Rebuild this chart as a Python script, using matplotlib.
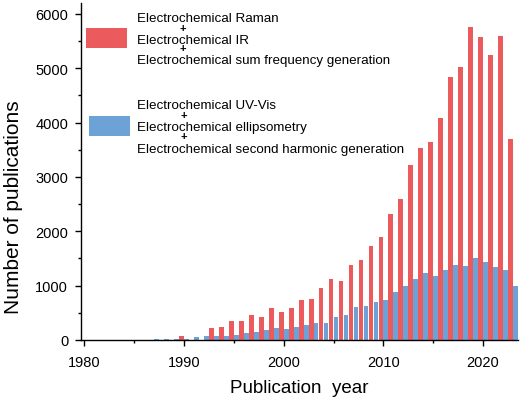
import matplotlib
matplotlib.use("Agg")
import matplotlib.pyplot as plt
from matplotlib.patches import Rectangle
from matplotlib.ticker import MultipleLocator

plt.rcParams['font.family'] = ['Liberation Sans', 'DejaVu Sans']

years = list(range(1983, 2024))
red_values = [0, 0, 0, 0, 0, 0, 0, 80, 0, 0, 215, 245, 350, 355, 452, 430, 590, 515, 588, 735,
              760, 962, 1120, 1090, 1380, 1467, 1731, 1903, 2312, 2597, 3217, 3540, 3644, 4076,
              4843, 5021, 5764, 5580, 5249, 5586, 3700]
blue_values = [5, 0, 0, 0, 10, 10, 15, 15, 50, 72, 70, 70, 92, 123, 141, 184, 221, 209, 239, 282,
               307, 310, 417, 454, 602, 632, 694, 743, 890, 995, 1117, 1234, 1173, 1296,
               1388, 1357, 1510, 1443, 1351, 1289, 1001]

red_label = ["Electrochemical Raman", "+", "Electrochemical IR", "+",
             "Electrochemical sum frequency generation"]
blue_label = ["Electrochemical UV-Vis", "+", "Electrochemical ellipsometry", "+",
              "Electrochemical second harmonic generation"]

RED = '#EB5B5E'
BLUE = '#6CA2D6'
W, H = 522, 402

fig = plt.figure(figsize=(W / 100, H / 100), dpi=100)
ax = fig.add_axes([80.7 / W, 1 - 341 / H, (518 - 80.7) / W, 337 / H])

bw = 0.48
ax.bar([y - 0.25 for y in years], red_values, width=bw, color=RED, edgecolor='none')
ax.bar([y + 0.25 for y in years], blue_values, width=bw, color=BLUE, edgecolor='none')

ax.set_xlim(1979.64, 2023.5)
ax.set_ylim(0, 6200)
ax.spines['top'].set_visible(False)
ax.spines['right'].set_visible(False)
for s in ('left', 'bottom'):
    ax.spines[s].set_linewidth(1.0)
ax.xaxis.set_major_locator(MultipleLocator(10))
ax.xaxis.set_minor_locator(MultipleLocator(5))
ax.yaxis.set_major_locator(MultipleLocator(1000))
ax.yaxis.set_minor_locator(MultipleLocator(500))
ax.tick_params(which='major', direction='out', length=4, width=1.0, labelsize=10.5, pad=5)
ax.tick_params(axis='x', which='major', pad=6.5)
ax.tick_params(which='minor', direction='out', length=2.2, width=1.0)


def fx(x):
    return x / W


def fy(y):
    return 1 - y / H


fig.text(fx(299), fy(393), "Publication  year", fontsize=13.5, ha='center', va='baseline')
fig.text(fx(13.5), fy(207.5), "Number of publications", fontsize=15, rotation=90,
         ha='center', va='center')

# legend
fig.add_artist(Rectangle((fx(86), fy(48.7)), 41 / W, 20 / H, transform=fig.transFigure,
                         facecolor=RED, edgecolor='none'))
fig.add_artist(Rectangle((fx(89), fy(137)), 41 / W, 20 / H, transform=fig.transFigure,
                         facecolor=BLUE, edgecolor='none'))

red_pos = [22, 29.0, 43.7, 49.0, 64.3]
blue_pos = [109, 115.8, 130.7, 137.0, 153]
for lines, pos, px in ((red_label, red_pos, 183), (blue_label, blue_pos, 184)):
    for t, y in zip(lines, pos):
        if t == "+":
            fig.text(fx(px), fy(y), t, fontsize=8, fontweight='bold', ha='center', va='center')
        else:
            fig.text(fx(137), fy(y), t, fontsize=9.6, ha='left', va='baseline')

fig.savefig('out.png', dpi=100)
